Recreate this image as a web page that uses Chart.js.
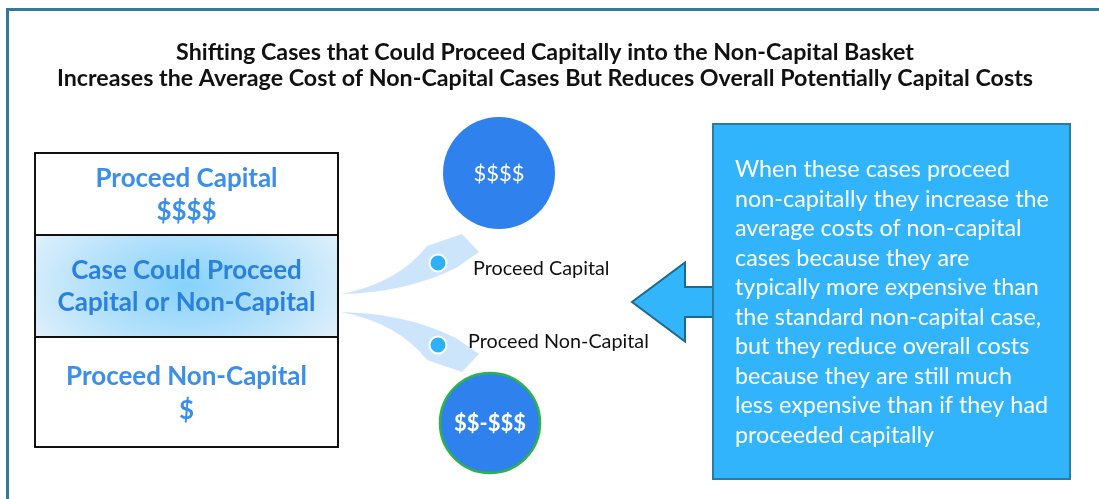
<!DOCTYPE html>
<html>
<head>
<meta charset="utf-8">
<script src="https://cdn.jsdelivr.net/npm/chart.js@4"></script>
<style>
  html, body { margin: 0; padding: 0; background: #ffffff; }
  #wrap { width: 1099px; height: 499px; }
</style>
</head>
<body>
<div id="wrap"><canvas id="c" width="1099" height="499"></canvas></div>
<script>
// ---- content ----
const titleLines = [
  'Shifting Cases that Could Proceed Capitally into the Non-Capital Basket',
  'Increases the Average Cost of Non-Capital Cases But Reduces Overall Potentially Capital Costs'
];
const boxRowTitles = [
  ['Proceed Capital'],
  ['Case Could Proceed', 'Capital or Non-Capital'],
  ['Proceed Non-Capital']
];
const boxRowCosts = ['$$$$', '', '$'];
const outcomeLabels = ['Proceed Capital', 'Proceed Non-Capital'];
const outcomeCosts = ['$$$$', '$$-$$$'];
const calloutLines = [
  'When these cases proceed',
  'non-capitally they increase the',
  'average costs of non-capital',
  'cases because they are',
  'typically more expensive than',
  'the standard non-capital case,',
  'but they reduce overall costs',
  'because they are still much',
  'less expensive than if they had',
  'proceeded capitally'
];

// ---- layout (diagram coordinates on hidden linear scales) ----
const L = {
  box: { x0: 35, x1: 338, rows: [153, 235, 337, 447] },
  circles: [ { x: 499, y: 173, r: 56 }, { x: 490, y: 423, r: 50 } ],
  dots: [ { x: 438, y: 263, r: 8.5 }, { x: 438, y: 345, r: 8.5 } ],
  labels: [ { x: 473, y: 275 }, { x: 468, y: 348 } ],
  callout: { x0: 713, y0: 124, x1: 1070, y1: 479, tx: 735, ty: 177, lh: 29.5 },
  arrow: { tip: 632, headX: 685, baseX: 713, cy: 302, headH: 39.5, shaftH: 15 }
};

const FONT = 'Lato, "Open Sans", sans-serif';

// font size so that text reaches the given width
function fitSize(ctx, text, weight, width) {
  ctx.font = weight + ' 20px ' + FONT;
  return 20 * width / ctx.measureText(text).width;
}

const diagramPlugin = {
  id: 'diagram',
  beforeDatasetsDraw(chart) {
    const ctx = chart.ctx;
    const xs = chart.scales.x, ys = chart.scales.y;
    const X = v => xs.getPixelForValue(v);
    const Y = v => ys.getPixelForValue(v);
    ctx.save();

    // outer frame (top + left)
    ctx.strokeStyle = '#3478a0';
    ctx.lineWidth = 3;
    ctx.beginPath();
    ctx.moveTo(X(7.5), Y(499));
    ctx.lineTo(X(7.5), Y(9.5));
    ctx.lineTo(X(1099), Y(9.5));
    ctx.stroke();

    // title
    ctx.fillStyle = '#111111';
    ctx.textAlign = 'center';
    ctx.textBaseline = 'alphabetic';
    const ts = fitSize(ctx, titleLines[1], 'bold', 976);
    ctx.font = 'bold ' + ts.toFixed(2) + 'px ' + FONT;
    ctx.fillText(titleLines[0], X(545), Y(60));
    ctx.fillText(titleLines[1], X(545), Y(86));

    // left box rows
    const b = L.box;
    const mx = (X(b.x0) + X(b.x1)) / 2, my = (Y(b.rows[1]) + Y(b.rows[2])) / 2;
    ctx.save();
    ctx.translate(mx, my);
    ctx.scale(1, 0.55);
    const g = ctx.createRadialGradient(0, 0, 0, 0, 0, 175);
    g.addColorStop(0, '#86d2fb');
    g.addColorStop(0.55, '#b4e1fb');
    g.addColorStop(1, '#dff0fb');
    ctx.fillStyle = g;
    ctx.fillRect(X(b.x0) - mx, (Y(b.rows[1]) - my) / 0.55, X(b.x1) - X(b.x0), (Y(b.rows[2]) - Y(b.rows[1])) / 0.55);
    ctx.restore();

    ctx.strokeStyle = '#111111';
    ctx.lineWidth = 2;
    ctx.strokeRect(X(b.x0), Y(b.rows[0]), X(b.x1) - X(b.x0), Y(b.rows[3]) - Y(b.rows[0]));
    ctx.beginPath();
    ctx.moveTo(X(b.x0), Y(b.rows[1])); ctx.lineTo(X(b.x1), Y(b.rows[1]));
    ctx.moveTo(X(b.x0), Y(b.rows[2])); ctx.lineTo(X(b.x1), Y(b.rows[2]));
    ctx.stroke();

    // row texts
    ctx.textAlign = 'center';
    ctx.textBaseline = 'alphabetic';
    const cx = (X(b.x0) + X(b.x1)) / 2;
    const bs = fitSize(ctx, boxRowTitles[1][1], 'bold', 258);
    ctx.font = 'bold ' + bs.toFixed(2) + 'px ' + FONT;
    ctx.fillStyle = '#3a8fec';
    ctx.fillText(boxRowTitles[0][0], cx, Y(187));
    ctx.fillText(boxRowCosts[0], cx, Y(220));
    ctx.fillStyle = '#2a80e0';
    ctx.fillText(boxRowTitles[1][0], cx, Y(279));
    ctx.fillText(boxRowTitles[1][1], cx, Y(311));
    ctx.fillStyle = '#3a8fec';
    ctx.fillText(boxRowTitles[2][0], cx, Y(385));
    ctx.fillText(boxRowCosts[2], cx, Y(419));

    // swoosh arrows
    function swoosh(m) {
      const mirrorY = v => (m ? 606 - v : v);
      ctx.beginPath();
      ctx.moveTo(X(341), Y(mirrorY(294)));
      ctx.quadraticCurveTo(X(398), Y(mirrorY(283)), X(427), Y(mirrorY(246)));
      ctx.lineTo(X(462), Y(mirrorY(234)));
      ctx.lineTo(X(479), Y(mirrorY(252)));
      ctx.lineTo(X(456), Y(mirrorY(268)));
      ctx.quadraticCurveTo(X(405), Y(mirrorY(293)), X(341), Y(mirrorY(294)));
      ctx.closePath();
      ctx.fillStyle = '#cde5fb';
      ctx.fill();
    }
    swoosh(false);
    swoosh(true);

    // big left-pointing arrow
    const a = L.arrow;
    ctx.beginPath();
    ctx.moveTo(X(a.baseX + 2), Y(a.cy - a.shaftH));
    ctx.lineTo(X(a.headX), Y(a.cy - a.shaftH));
    ctx.lineTo(X(a.headX), Y(a.cy - a.headH));
    ctx.lineTo(X(a.tip), Y(a.cy));
    ctx.lineTo(X(a.headX), Y(a.cy + a.headH));
    ctx.lineTo(X(a.headX), Y(a.cy + a.shaftH));
    ctx.lineTo(X(a.baseX + 2), Y(a.cy + a.shaftH));
    ctx.fillStyle = '#33b5fb';
    ctx.fill();
    ctx.strokeStyle = '#1f6a8c';
    ctx.lineWidth = 2;
    ctx.stroke();

    // callout box
    const c = L.callout;
    ctx.fillStyle = '#31b4fc';
    ctx.fillRect(X(c.x0), Y(c.y0), X(c.x1) - X(c.x0), Y(c.y1) - Y(c.y0));
    ctx.strokeStyle = '#2a7ca6';
    ctx.lineWidth = 2;
    ctx.strokeRect(X(c.x0), Y(c.y0), X(c.x1) - X(c.x0), Y(c.y1) - Y(c.y0));
    ctx.fillStyle = '#ffffff';
    ctx.textAlign = 'left';
    ctx.textBaseline = 'alphabetic';
    const cs = fitSize(ctx, calloutLines[1], 'normal', 314);
    ctx.font = 'normal ' + cs.toFixed(2) + 'px ' + FONT;
    calloutLines.forEach((t, i) => ctx.fillText(t, X(c.tx), Y(c.ty + i * c.lh)));

    ctx.restore();
  },
  afterDatasetsDraw(chart) {
    const ctx = chart.ctx;
    const xs = chart.scales.x, ys = chart.scales.y;
    const X = v => xs.getPixelForValue(v);
    const Y = v => ys.getPixelForValue(v);
    ctx.save();
    ctx.fillStyle = '#ffffff';
    ctx.textAlign = 'center';
    ctx.textBaseline = 'middle';
    ctx.font = '22px ' + FONT;
    ctx.fillText(outcomeCosts[0], X(L.circles[0].x), Y(L.circles[0].y + 1));
    ctx.font = 'bold 22px ' + FONT;
    ctx.fillText(outcomeCosts[1], X(L.circles[1].x), Y(L.circles[1].y + 1));
    ctx.fillStyle = '#111111';
    ctx.textAlign = 'left';
    ctx.textBaseline = 'alphabetic';
    const ls = fitSize(ctx, outcomeLabels[1], 'normal', 181);
    ctx.font = 'normal ' + ls.toFixed(2) + 'px ' + FONT;
    outcomeLabels.forEach((t, i) => ctx.fillText(t, X(L.labels[i].x), Y(L.labels[i].y)));
    ctx.restore();
  }
};

new Chart(document.getElementById('c'), {
  type: 'bubble',
  data: {
    datasets: [
      {
        label: 'dots',
        data: L.dots,
        backgroundColor: '#2db1f8',
        borderColor: '#ffffff',
        borderWidth: 2,
        order: 0
      },
      {
        label: 'outcomes',
        data: L.circles,
        backgroundColor: '#2f81ee',
        borderColor: ['#2f81ee', '#2eb24b'],
        borderWidth: [0, 2.5],
        order: 1
      }
    ]
  },
  options: {
    responsive: false,
    animation: false,
    events: [],
    layout: { padding: 0, autoPadding: false },
    plugins: { legend: { display: false }, tooltip: { enabled: false } },
    scales: {
      x: { type: 'linear', min: 0, max: 1099, display: false },
      y: { type: 'linear', min: 0, max: 499, reverse: true, display: false }
    }
  },
  plugins: [diagramPlugin]
});
</script>
</body>
</html>
